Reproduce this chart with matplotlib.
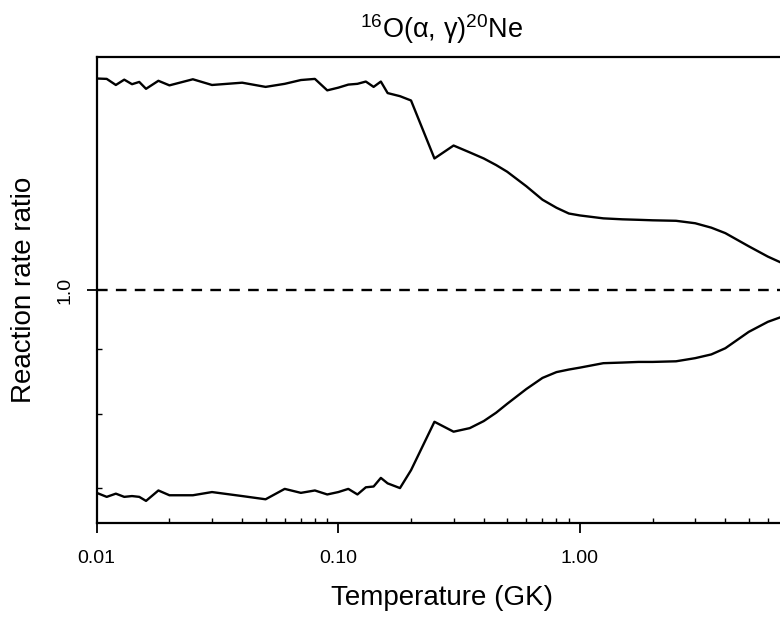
import matplotlib
matplotlib.use('Agg')
import matplotlib.pyplot as plt
from matplotlib.ticker import FixedLocator, FixedFormatter, NullFormatter

plt.rcParams['font.family'] = ['Liberation Sans', 'DejaVu Sans']
plt.rcParams['mathtext.fontset'] = 'custom'
plt.rcParams['mathtext.rm'] = 'Liberation Sans'
plt.rcParams['mathtext.it'] = 'Liberation Sans:italic'

# temperatures (GK)
temps = [0.010, 0.011, 0.012, 0.013, 0.014, 0.015, 0.016, 0.018, 0.020, 0.025,
         0.030, 0.040, 0.050, 0.060, 0.070, 0.080, 0.090, 0.100, 0.110, 0.120,
         0.130, 0.140, 0.150, 0.160, 0.180, 0.200, 0.250, 0.300, 0.350, 0.400,
         0.450, 0.500, 0.600, 0.700, 0.800, 0.900, 1.000, 1.250, 1.500, 1.750,
         2.000, 2.500, 3.000, 3.500, 4.000, 5.000, 6.000, 7.000]

# high / low rate divided by recommended rate
ratio_high = [1.466, 1.465, 1.449, 1.463, 1.451, 1.457, 1.439, 1.460, 1.448, 1.464,
              1.449, 1.455, 1.444, 1.452, 1.462, 1.465, 1.435, 1.442, 1.450, 1.452,
              1.458, 1.444, 1.458, 1.428, 1.420, 1.409, 1.269, 1.299, 1.283, 1.269,
              1.254, 1.239, 1.207, 1.178, 1.161, 1.149, 1.145, 1.139, 1.137, 1.136,
              1.135, 1.134, 1.129, 1.120, 1.109, 1.083, 1.063, 1.049]

ratio_low = [0.694, 0.689, 0.693, 0.689, 0.690, 0.689, 0.684, 0.697, 0.691, 0.691,
             0.695, 0.690, 0.686, 0.699, 0.694, 0.697, 0.692, 0.695, 0.699, 0.692,
             0.701, 0.702, 0.713, 0.706, 0.700, 0.723, 0.789, 0.775, 0.780, 0.790,
             0.802, 0.815, 0.837, 0.854, 0.863, 0.867, 0.870, 0.877, 0.878, 0.879,
             0.879, 0.880, 0.885, 0.891, 0.901, 0.928, 0.945, 0.955]

x_major = [0.01, 0.1, 1.0]
x_major_labels = ['0.01', '0.10', '1.00']
x_minor = [m * d for d in (0.01, 0.1, 1.0) for m in range(2, 10)]
y_major = [1.0]
y_minor = [0.7, 0.8, 0.9]

fig = plt.figure(figsize=(7.8, 6.17), dpi=100)
ax = fig.add_axes([0.124, 0.152, 0.885, 0.755])

ax.plot(temps, ratio_high, color='black', lw=1.7)
ax.plot(temps, ratio_low, color='black', lw=1.7)
ax.axhline(1.0, color='black', lw=1.7, linestyle=(0, (4.5, 3.5)))

ax.set_xscale('log')
ax.set_yscale('log')
ax.set_xlim(0.01, 7.2)
ax.set_ylim(0.657, 1.523)

ax.xaxis.set_major_locator(FixedLocator(x_major))
ax.xaxis.set_major_formatter(FixedFormatter(x_major_labels))
ax.xaxis.set_minor_locator(FixedLocator(x_minor))
ax.xaxis.set_minor_formatter(NullFormatter())
ax.yaxis.set_major_locator(FixedLocator(y_major))
ax.yaxis.set_major_formatter(FixedFormatter(['1.0']))
ax.yaxis.set_minor_locator(FixedLocator(y_minor))
ax.yaxis.set_minor_formatter(NullFormatter())

ax.tick_params(which='major', direction='out', length=7.5, width=1.3,
               labelsize=14, pad=12)
ax.tick_params(axis='y', which='major', pad=9)
ax.tick_params(which='minor', direction='in', length=3.5, width=1.0)
for lab in ax.get_yticklabels():
    lab.set_rotation(90)
    lab.set_va('center')

for sp in ax.spines.values():
    sp.set_linewidth(1.6)

ax.set_xlabel('Temperature (GK)', fontsize=20, labelpad=13)
ax.set_ylabel('Reaction rate ratio', fontsize=20, labelpad=14)
ax.set_title(r'$\mathregular{^{16}}$O(α, γ)$\mathregular{^{20}}$Ne', fontsize=19.5, pad=14)

fig.savefig('out.png', dpi=100)
